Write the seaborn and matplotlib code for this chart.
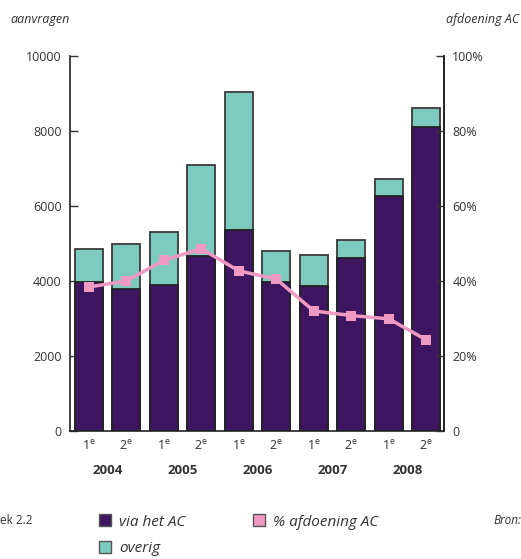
import numpy as np
import pandas as pd
import matplotlib.pyplot as plt
import seaborn as sns
from matplotlib.lines import Line2D

# data
halfjaar = ['1e', '2e', '1e', '2e', '1e', '2e', '1e', '2e', '1e', '2e']
jaren = ['2004', '2005', '2006', '2007', '2008']
via_ac = [3970, 3790, 3890, 4670, 5360, 3970, 3870, 4610, 6260, 8100]
totaal = [4850, 4980, 5300, 7090, 9030, 4800, 4690, 5090, 6720, 8610]
pct_afdoening = [38.4, 40.0, 45.5, 48.6, 42.7, 40.5, 32.0, 30.8, 29.9, 24.3]

purple = '#3d1560'
teal = '#7dcbbe'
pink = '#f09ac3'
edge = '#3a3a3a'

sns.set_style('white')
plt.rcParams['font.family'] = ['Open Sans', 'DejaVu Sans']

df = pd.DataFrame({'pos': [str(i) for i in range(len(halfjaar))],
                   'via': via_ac, 'tot': totaal, 'pct': pct_afdoening})

fig = plt.figure(figsize=(5.21, 5.59), dpi=100)
ax = fig.add_axes([70 / 521, 1 - 431 / 559, 374 / 521, 375 / 559])

sns.barplot(data=df, x='pos', y='tot', color=teal, saturation=1, width=0.745,
            edgecolor=edge, linewidth=1.3, ax=ax)
sns.barplot(data=df, x='pos', y='via', color=purple, saturation=1, width=0.745,
            edgecolor='#222222', linewidth=1.3, ax=ax)

ax.set_ylim(0, 10000)
ax.set_yticks(np.arange(0, 10001, 2000))
ax.set_yticklabels(['0', '2000', '4000', '6000', '8000', '10000'], fontsize=9, color='#333333')
ax.set_xticks(range(len(halfjaar)))
ax.set_xticklabels([h[0] + r'$^\mathregular{e}$' for h in halfjaar], fontsize=9, color='#333333')
ax.set_xticks(np.arange(0.5, 9, 1), minor=True)
ax.tick_params(axis='x', which='major', length=0, pad=6)
ax.tick_params(axis='x', which='minor', length=5, direction='in', width=1, color='#333333')
ax.tick_params(axis='y', length=6, direction='in', width=1, color='#333333', pad=6)
ax.set_xlabel('')
ax.set_ylabel('')
for s in ['left', 'bottom', 'right']:
    ax.spines[s].set_color('#222222')
    ax.spines[s].set_linewidth(1.2)
ax.spines['top'].set_visible(False)

ax2 = ax.twinx()
sns.lineplot(x=np.arange(len(halfjaar)), y=df['pct'], color=pink, linewidth=2.5,
             marker='s', markersize=7, markeredgewidth=0, ax=ax2)
ax2.set_ylim(0, 100)
ax2.set_yticks(np.arange(0, 101, 20))
ax2.set_yticklabels(['0', '20%', '40%', '60%', '80%', '100%'], fontsize=9, color='#333333')
ax2.tick_params(axis='y', length=6, direction='in', width=1, color='#333333', pad=6)
ax2.set_ylabel('')
for s in ['top', 'left', 'bottom']:
    ax2.spines[s].set_visible(False)
ax2.spines['right'].set_color('#222222')
ax2.spines['right'].set_linewidth(1.2)
ax.set_xlim(-0.5, 9.47)
ax2.set_xlim(-0.5, 9.47)

# year labels under each pair of half years
for i, j in enumerate(jaren):
    ax.text(2 * i + 0.5, -0.105, j, transform=ax.get_xaxis_transform(),
            ha='center', va='center', fontsize=9.5, fontweight='bold', color='#333333')

fig.text(10 / 521, 1 - 20 / 559, 'aanvragen', fontsize=9, style='italic',
         color='#333333', ha='left', va='center')
fig.text(519 / 521, 1 - 20 / 559, 'afdoening AC', fontsize=9, style='italic',
         color='#333333', ha='right', va='center')
fig.text(0, 1 - 520 / 559, 'ek 2.2', fontsize=8.5, color='#333333', ha='left', va='center')
fig.text(1, 1 - 520 / 559, 'Bron:', fontsize=8.5, style='italic', color='#333333',
         ha='right', va='center')

handles = [Line2D([], [], ls='none', marker='s', markersize=9, markerfacecolor=purple,
                  markeredgecolor='#555555', markeredgewidth=1),
           Line2D([], [], ls='none', marker='s', markersize=9, markerfacecolor=teal,
                  markeredgecolor='#555555', markeredgewidth=1),
           Line2D([], [], ls='none', marker='s', markersize=9, markerfacecolor=pink,
                  markeredgecolor='#555555', markeredgewidth=1)]
fig.legend(handles, ['via het AC', 'overig', '% afdoening AC'], ncol=2,
           loc='upper left', bbox_to_anchor=(84 / 521, 1 - 501 / 559), frameon=False,
           prop={'size': 11, 'style': 'italic'}, labelcolor='#333333',
           handletextpad=0.4, columnspacing=4.3, labelspacing=0.75, handlelength=1.0)

fig.savefig('out.png', dpi=100)
